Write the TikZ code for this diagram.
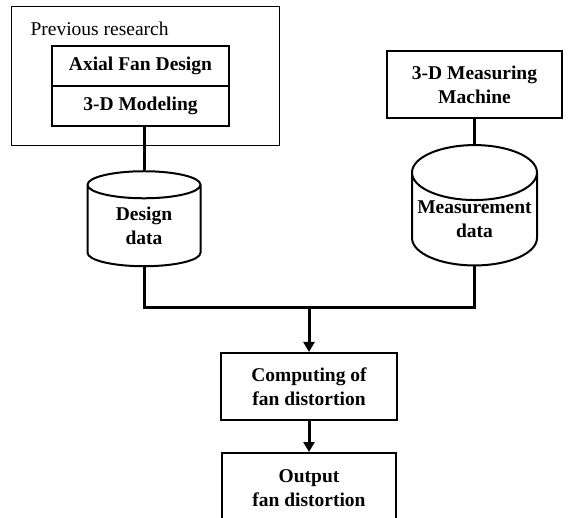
\documentclass[tikz,border=0pt]{standalone}
\usepackage{fontspec}
\setmainfont{Liberation Serif}
\usetikzlibrary{arrows.meta,positioning,shapes.geometric}
\tikzset{
  outerbox/.style={rectangle, draw=black, line width=1pt, inner sep=0pt},
  procbox/.style={rectangle, draw=black, line width=2pt, inner sep=0pt, align=center, font=\bfseries\fontsize{19.5}{24}\selectfont},
  dbase/.style={cylinder, shape border rotate=90, aspect=0.48, draw=black, line width=2pt, inner sep=0pt, align=center, font=\bfseries\fontsize{19.5}{24}\selectfont},
  link/.style={line width=3pt},
  flow/.style={line width=3pt, -{Triangle[length=10pt,width=11pt]}}
}
\begin{document}
\begin{tikzpicture}[x=1pt,y=-1pt]
  \useasboundingbox (0,0) rectangle (570,518);
  % previous research group
  \node[outerbox, minimum width=268pt, minimum height=139pt] (prev) at (145,76.5) {};
  \node[anchor=west, font=\fontsize{19.5}{22}\selectfont] (prevlbl) at (27,29) {Previous research};
  \node[procbox, minimum width=177pt, minimum height=40pt] (axial) at (140.5,66) {Axial Fan Design};
  \node[procbox, minimum width=177pt, minimum height=40pt] (model) at (140.5,106) {3-D Modeling};

  % measuring side
  \node[procbox, minimum width=175pt, minimum height=67pt] (meas) at (474.5,84.5) {3-D Measuring\\Machine};

  % databases
  \node[dbase, minimum width=113pt, minimum height=95pt] (ddata) at (144,226) {Design\\data};
  \node[dbase, minimum width=125pt, minimum height=101pt] (mdata) at (474.5,219.5) {Measurement\\data};
  \draw[link] (model.south -| ddata.top) -- (ddata.top);
  \draw[link] (meas.south -| mdata.top) -- (mdata.top);

  % computing and output
  \node[procbox, minimum width=176pt, minimum height=67pt] (comp) at (309,386.5) {Computing of\\fan distortion};
  \node[procbox, minimum width=174pt, minimum height=70pt] (out) at (309,488) {Output\\fan distortion};
  \coordinate (join) at (309,308);
  \draw[link] (ddata.bottom) |- (join) -| (mdata.bottom);
  \draw[flow] (join) -- (comp.north);
  \draw[flow] (comp.south) -- (out.north);
\end{tikzpicture}
\end{document}
